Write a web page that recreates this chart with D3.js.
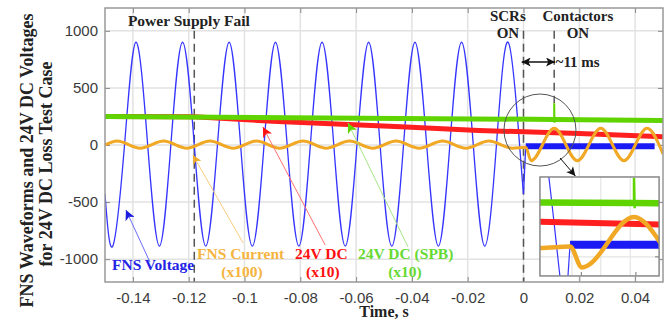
<!DOCTYPE html>
<html>
<head>
<meta charset="utf-8">
<script src="https://cdn.jsdelivr.net/npm/d3@7"></script>
<style>
  body { margin: 0; background: #fff; }
  svg { display: block; }
</style>
</head>
<body>
<div id="chart"></div>
<script>
// tick values / labels
var xTicks = [-0.14, -0.12, -0.1, -0.08, -0.06, -0.04, -0.02, 0, 0.02, 0.04];
var xTickLabels = ['-0.14', '-0.12', '-0.1', '-0.08', '-0.06', '-0.04', '-0.02', '0', '0.02', '0.04'];
var yTicks = [-1000, -500, 0, 500, 1000];
var yTickLabels = ['-1000', '-500', '0', '500', '1000'];

// FNS voltage, read at troughs, zero crossings and peaks [time s, value]
var fnsVoltage = [
  [-0.15, -430], [-0.1472, -885], [-0.1430, 0], [-0.1389, 900], [-0.1347, 0],
  [-0.1305, -885], [-0.1264, 0], [-0.1222, 900], [-0.1180, 0],
  [-0.1139, -885], [-0.1097, 0], [-0.1055, 900], [-0.1014, 0],
  [-0.0972, -885], [-0.0930, 0], [-0.0889, 900], [-0.0847, 0],
  [-0.0805, -885], [-0.0764, 0], [-0.0722, 900], [-0.0680, 0],
  [-0.0639, -885], [-0.0597, 0], [-0.0555, 900], [-0.0514, 0],
  [-0.0472, -885], [-0.0430, 0], [-0.0389, 900], [-0.0347, 0],
  [-0.0305, -885], [-0.0264, 0], [-0.0222, 900], [-0.0180, 0],
  [-0.0139, -885], [-0.0097, 0], [-0.0055, 900], [-0.0014, 0],
  [0, -430]
];
var fnsVoltageJump = [[0, -430], [0.0008, -10]];
var fnsVoltageAfter = [[0.0008, -10], [0.047, -10]];

// FNS current x100, read at crests and troughs
var fnsCurrent = [
  [-0.15, 0], [-0.1457, 35], [-0.1374, -28], [-0.1290, 35], [-0.1207, -28],
  [-0.1124, 35], [-0.1040, -28], [-0.0957, 35], [-0.0874, -28],
  [-0.0790, 35], [-0.0707, -28], [-0.0624, 35], [-0.0540, -28],
  [-0.0457, 35], [-0.0374, -28], [-0.0290, 35], [-0.0207, -28],
  [-0.0124, 35], [-0.0040, -28], [0.0008, -20],
  [0.0027, -137], [0.0110, 146], [0.0193, -137], [0.0277, 146],
  [0.0360, -137], [0.0443, 146], [0.05, -79]
];

// 24V DC x10
var dc24 = [[-0.15, 250], [-0.118, 248], [-0.09, 208], [-0.044, 160], [-0.016, 128], [0.02, 100], [0.05, 72]];
// 24V DC (SPB) x10, with the spike when the contactors close
var dc24Spb = [[-0.15, 250], [0.011, 224], [0.05, 215]];
var dc24SpbSpike = [[0.0110, 224], [0.0110, 365], [0.0111, 195], [0.0111, 224]];

// event times
var powerFailT = -0.118;
var scrT = 0;
var contactorT = 0.011;

// inset grid / ticks
var insetXGrid = [0.0011, 0.0057, 0.0104];
var insetXTicks = [0.0026, 0.0113];
var insetYGrid = [230, -78];

var margin = {top: 8, right: 5, bottom: 39, left: 105};
var width = 668 - margin.left - margin.right;
var height = 321 - margin.top - margin.bottom;

var svg = d3.select('#chart')
  .append('svg')
    .attr('width', 668)
    .attr('height', 321);

var defs = svg.append('defs');
function marker(id, color, len, wid) {
  defs.append('marker')
      .attr('id', id)
      .attr('viewBox', '0 0 10 10')
      .attr('refX', 10)
      .attr('refY', 5)
      .attr('markerUnits', 'userSpaceOnUse')
      .attr('markerWidth', len)
      .attr('markerHeight', wid)
      .attr('orient', 'auto-start-reverse')
    .append('path')
      .attr('d', 'M0,0L10,5L0,10L2.5,5Z')
      .attr('fill', color);
}
marker('ah-blue', '#1c1ce0', 12, 10);
marker('ah-orange', '#f0a825', 11, 9);
marker('ah-red', '#ff1010', 12, 10);
marker('ah-green', '#5fd400', 12, 10);
marker('ah-black', '#111', 11, 9);

var g = svg.append('g')
    .attr('transform', 'translate(' + margin.left + ',' + margin.top + ')');

var x = d3.scaleLinear().domain([-0.15, 0.05]).range([0, width]);
var y = d3.scaleLinear().domain([-1200, 1200]).range([height, 0]);

// grid
g.selectAll('.vgrid').data(xTicks).enter().append('line')
    .attr('x1', x).attr('x2', x)
    .attr('y1', 0).attr('y2', height)
    .attr('stroke', '#e2e2e2').attr('stroke-width', 1.5);
g.selectAll('.hgrid').data(yTicks).enter().append('line')
    .attr('y1', y).attr('y2', y)
    .attr('x1', 0).attr('x2', width)
    .attr('stroke', '#e2e2e2').attr('stroke-width', 1.5);

// axes with inward ticks
var xAxis = g.append('g')
    .attr('transform', 'translate(0,' + height + ')')
    .call(d3.axisBottom(x).tickValues(xTicks).tickSize(-5).tickPadding(10)
      .tickFormat(function(d, i) { return xTickLabels[i]; }));
var yAxis = g.append('g')
    .call(d3.axisLeft(y).tickValues(yTicks).tickSize(-5).tickPadding(7)
      .tickFormat(function(d, i) { return yTickLabels[i]; }));
g.append('g')
    .call(d3.axisTop(x).tickValues(xTicks).tickSize(-5).tickFormat(''));
g.append('g')
    .attr('transform', 'translate(' + width + ',0)')
    .call(d3.axisRight(y).tickValues(yTicks).tickSize(-5).tickFormat(''));
g.selectAll('.domain').remove();
g.selectAll('.tick line').attr('stroke', '#888').attr('stroke-width', 1);
[xAxis, yAxis].forEach(function(a) {
  a.selectAll('text')
    .attr('fill', '#3a3a3a')
    .style('font-family', '"Liberation Sans", Arial, sans-serif')
    .style('font-size', '15px');
});

// clip
defs.append('clipPath').attr('id', 'clip-main')
  .append('rect').attr('width', width).attr('height', height);
var plot = g.append('g').attr('clip-path', 'url(#clip-main)');

var lineNatural = d3.line().x(function(d) { return x(d[0]); }).y(function(d) { return y(d[1]); }).curve(d3.curveNatural);
var lineMono = d3.line().x(function(d) { return x(d[0]); }).y(function(d) { return y(d[1]); }).curve(d3.curveMonotoneX);
var lineLin = d3.line().x(function(d) { return x(d[0]); }).y(function(d) { return y(d[1]); });

// dashed event lines
function dashed(t, v0, v1) {
  plot.append('line')
      .attr('x1', x(t)).attr('x2', x(t))
      .attr('y1', y(v0)).attr('y2', y(v1))
      .attr('stroke', '#555')
      .attr('stroke-width', 1.5)
      .attr('stroke-dasharray', '8,5');
}
dashed(powerFailT, 1000, -1200);
dashed(scrT, 1000, -1200);
dashed(contactorT, 1000, 365);

// series
plot.append('path').attr('d', lineNatural(fnsVoltage))
    .attr('fill', 'none').attr('stroke', '#3535ff').attr('stroke-width', 1.3);
plot.append('path').attr('d', lineLin(fnsVoltageJump))
    .attr('fill', 'none').attr('stroke', '#3535ff').attr('stroke-width', 1.3);
plot.append('path').attr('d', lineLin(fnsVoltageAfter))
    .attr('fill', 'none').attr('stroke', '#1a1af5').attr('stroke-width', 6);
plot.append('path').attr('d', lineLin(dc24))
    .attr('fill', 'none').attr('stroke', '#ff1f1f').attr('stroke-width', 5);
plot.append('path').attr('d', lineLin(dc24Spb))
    .attr('fill', 'none').attr('stroke', '#5fd400').attr('stroke-width', 5);
plot.append('path').attr('d', lineLin(dc24SpbSpike))
    .attr('fill', 'none').attr('stroke', '#5fd400').attr('stroke-width', 2);
plot.append('path').attr('d', lineMono(fnsCurrent))
    .attr('fill', 'none').attr('stroke', '#f0a825').attr('stroke-width', 3);

// frame
g.append('rect')
    .attr('width', width).attr('height', height)
    .attr('fill', 'none').attr('stroke', '#999').attr('stroke-width', 1.5);

// annotations
var serif = '"Liberation Serif", "Times New Roman", serif';
function label(t, v, txt, color, anchor, size) {
  g.append('text')
      .attr('x', x(t)).attr('y', y(v))
      .attr('text-anchor', anchor || 'start')
      .attr('fill', color)
      .style('font-family', serif)
      .style('font-weight', 'bold')
      .style('font-size', (size || 15.5) + 'px')
      .text(txt);
}
function arrow(p0, p1, color, w, mk, both) {
  var l = g.append('line')
      .attr('x1', x(p0[0])).attr('y1', y(p0[1]))
      .attr('x2', x(p1[0])).attr('y2', y(p1[1]))
      .attr('stroke', color).attr('stroke-width', w)
      .attr('marker-end', 'url(#' + mk + ')');
  if (both) l.attr('marker-start', 'url(#' + mk + ')');
}

label(-0.1418, 1042, 'Power Supply Fail', '#222', 'start', 15.5);
label(-0.0056, 1086, 'SCRs', '#222', 'middle', 15);
label(-0.0056, 937, 'ON', '#222', 'middle', 15);
label(0.0195, 1086, 'Contactors', '#222', 'middle', 15);
label(0.0195, 937, 'ON', '#222', 'middle', 15);
label(0.0115, 683, '~11 ms', '#222', 'start', 15);
arrow([-0.00065, 727], [0.0113, 727], '#111', 1.6, 'ah-black', true);

label(-0.1475, -1095, 'FNS Voltage', '#2323e6', 'start');
label(-0.117, -998, 'FNS Current', '#f5b440', 'start');
label(-0.1009, -1156, '(x100)', '#f5b440', 'middle');
label(-0.0819, -998, '24V DC', '#ff1010', 'start');
label(-0.0719, -1156, '(x10)', '#ff1010', 'middle');
label(-0.0593, -998, '24V DC (SPB)', '#66d933', 'start');
label(-0.0425, -1156, '(x10)', '#66d933', 'middle');

arrow([-0.1339, -1025], [-0.1425, -569], '#6b6bff', 1, 'ah-blue');
arrow([-0.1005, -858], [-0.1185, -88], '#f8cc80', 1, 'ah-orange');
arrow([-0.0711, -876], [-0.0934, 158], '#ff7070', 1, 'ah-red');
arrow([-0.0414, -893], [-0.0629, 193], '#a6e688', 1, 'ah-green');

// zoom circle and arrow to inset
g.append('circle')
    .attr('cx', x(0.0059)).attr('cy', y(131)).attr('r', 36)
    .attr('fill', 'none').attr('stroke', '#555').attr('stroke-width', 1);
arrow([0.0131, -114], [0.0186, -272], '#111', 1, 'ah-black');

// inset
var ix = d3.scaleLinear().domain([-0.004, 0.015]).range([x(0.0059), x(0.0486)]);
var iy = d3.scaleLinear().domain([-185, 370]).range([y(-1147), y(-280)]);
var inset = g.append('g');
inset.append('rect')
    .attr('x', ix.range()[0]).attr('y', iy.range()[1])
    .attr('width', ix.range()[1] - ix.range()[0])
    .attr('height', iy.range()[0] - iy.range()[1])
    .attr('fill', '#fff');
inset.selectAll('.ixg').data(insetXGrid).enter().append('line')
    .attr('x1', ix).attr('x2', ix)
    .attr('y1', iy.range()[0]).attr('y2', iy.range()[1])
    .attr('stroke', '#e4e4e4').attr('stroke-width', 1.2);
inset.selectAll('.iyg').data(insetYGrid).enter().append('line')
    .attr('y1', iy).attr('y2', iy)
    .attr('x1', ix.range()[0]).attr('x2', ix.range()[1])
    .attr('stroke', '#e4e4e4').attr('stroke-width', 1.2);
inset.selectAll('.ixt').data(insetXTicks).enter().append('line')
    .attr('x1', ix).attr('x2', ix)
    .attr('y1', iy.range()[0]).attr('y2', iy.range()[0] - 4)
    .attr('stroke', '#777');
inset.selectAll('.iyt').data(insetYGrid).enter().append('line')
    .attr('y1', iy).attr('y2', iy)
    .attr('x1', ix.range()[1]).attr('x2', ix.range()[1] - 4)
    .attr('stroke', '#777');

defs.append('clipPath').attr('id', 'clip-inset')
  .append('rect')
    .attr('x', ix.range()[0]).attr('y', iy.range()[1])
    .attr('width', ix.range()[1] - ix.range()[0])
    .attr('height', iy.range()[0] - iy.range()[1]);
var ip = inset.append('g').attr('clip-path', 'url(#clip-inset)');
var iNatural = d3.line().x(function(d) { return ix(d[0]); }).y(function(d) { return iy(d[1]); }).curve(d3.curveNatural);
var iMono = d3.line().x(function(d) { return ix(d[0]); }).y(function(d) { return iy(d[1]); }).curve(d3.curveMonotoneX);
var iLin = d3.line().x(function(d) { return ix(d[0]); }).y(function(d) { return iy(d[1]); });

ip.append('path').attr('d', iNatural(fnsVoltage))
    .attr('fill', 'none').attr('stroke', '#3535ff').attr('stroke-width', 1.2);
ip.append('path').attr('d', iLin(fnsVoltageJump))
    .attr('fill', 'none').attr('stroke', '#3535ff').attr('stroke-width', 1.2);
ip.append('path').attr('d', iLin(fnsVoltageAfter))
    .attr('fill', 'none').attr('stroke', '#1a1af5').attr('stroke-width', 8);
ip.append('path').attr('d', iLin(dc24))
    .attr('fill', 'none').attr('stroke', '#ff1f1f').attr('stroke-width', 6);
ip.append('path').attr('d', iLin(dc24Spb))
    .attr('fill', 'none').attr('stroke', '#5fd400').attr('stroke-width', 6.5);
ip.append('path').attr('d', iLin(dc24SpbSpike))
    .attr('fill', 'none').attr('stroke', '#5fd400').attr('stroke-width', 2.5);
ip.append('path').attr('d', iMono(fnsCurrent))
    .attr('fill', 'none').attr('stroke', '#f0a825').attr('stroke-width', 4.5);

inset.append('rect')
    .attr('x', ix.range()[0]).attr('y', iy.range()[1])
    .attr('width', ix.range()[1] - ix.range()[0])
    .attr('height', iy.range()[0] - iy.range()[1])
    .attr('fill', 'none').attr('stroke', '#888').attr('stroke-width', 1.5);

// axis titles
svg.append('text')
    .attr('x', margin.left + width / 2).attr('y', 316.5)
    .attr('text-anchor', 'middle')
    .attr('fill', '#222')
    .style('font-family', serif).style('font-weight', 'bold').style('font-size', '16px')
    .text('Time, s');
svg.append('text')
    .attr('transform', 'translate(33,160.5) rotate(-90)')
    .attr('text-anchor', 'middle')
    .attr('fill', '#222')
    .style('font-family', serif).style('font-weight', 'bold').style('font-size', '18px')
    .text('FNS Waveforms and 24V DC Voltages');
svg.append('text')
    .attr('transform', 'translate(52,164) rotate(-90)')
    .attr('text-anchor', 'middle')
    .attr('fill', '#222')
    .style('font-family', serif).style('font-weight', 'bold').style('font-size', '18px')
    .text('for 24V DC Loss Test Case');
</script>
</body>
</html>
